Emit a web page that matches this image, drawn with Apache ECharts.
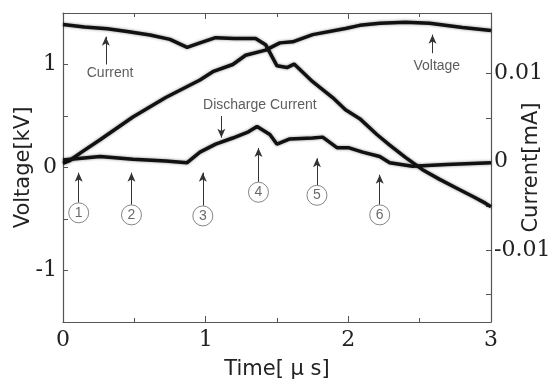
<!DOCTYPE html>
<html>
<head>
<meta charset="utf-8">
<script src="https://cdn.jsdelivr.net/npm/echarts@6/dist/echarts.min.js"></script>
<style>
  html,body{margin:0;padding:0;background:#fff}
  #chart{width:558px;height:385px}
</style>
</head>
<body>
<div id="chart"></div>
<script>
// time axis (us) and readings
var voltageTime = [0, 0.05, 0.12, 0.26, 0.49, 0.72, 0.96, 1.05, 1.19, 1.28, 1.42, 1.52, 1.61, 1.75, 1.98, 2.08, 2.22, 2.4, 2.57, 2.8, 3.0]
var voltage = [0.04, 0.07, 0.14, 0.27, 0.49, 0.68, 0.85, 0.93, 1.0, 1.09, 1.14, 1.21, 1.22, 1.29, 1.35, 1.38, 1.40, 1.41, 1.40, 1.36, 1.33]

var currentTime = [0, 0.15, 0.31, 0.45, 0.61, 0.75, 0.87, 0.96, 1.07, 1.2, 1.35, 1.42, 1.5, 1.57, 1.62, 1.75, 1.89, 1.98, 2.08, 2.2, 2.29, 2.4, 2.52, 2.64, 2.76, 2.88, 2.96, 3.0]
var current = [0.0156, 0.0153, 0.0151, 0.0148, 0.0144, 0.0139, 0.0130, 0.0135, 0.0141, 0.0140, 0.0140, 0.0133, 0.0109, 0.0107, 0.0111, 0.0091, 0.0073, 0.0059, 0.0049, 0.0031, 0.0019, 0.0005, -0.0009, -0.0020, -0.0030, -0.0040, -0.0047, -0.0051]

var dischargeTime = [0, 0.26, 0.49, 0.72, 0.87, 0.96, 1.07, 1.19, 1.3, 1.36, 1.45, 1.5, 1.59, 1.75, 1.82, 1.92, 2.0, 2.1, 2.22, 2.29, 2.45, 2.69, 3.0]
var discharge = [0.0002, 0.0006, 0.0003, 0.0001, -0.0001, 0.0011, 0.0020, 0.0027, 0.0034, 0.0040, 0.0031, 0.0020, 0.0026, 0.0027, 0.0028, 0.0016, 0.0016, 0.0011, 0.0006, -0.0001, -0.0005, -0.0003, -0.0001]

var xTicks = [0, 1, 2, 3]
var voltTicks = [-1, 0, 1]
var voltMinor = [-1, -0.5, 0, 0.5, 1]
var currTicks = [-0.01, 0, 0.01]
var currMinor = [-0.015, -0.01, -0.005, 0, 0.005, 0.01, 0.015]

// annotations, in time / voltage coordinates
var arrowNames = ['Current', 'Voltage', 'Discharge', '1', '2', '3', '4', '5', '6']
var arrowT = [0.30, 2.59, 1.11, 0.11, 0.48, 0.98, 1.37, 1.78, 2.22]
var arrowFrom = [1.00, 1.11, 0.50, -0.34, -0.36, -0.37, -0.14, -0.17, -0.36]
var arrowTo = [1.27, 1.29, 0.29, -0.05, -0.05, -0.05, 0.19, 0.09, -0.07]

var markerNames = ['1', '2', '3', '4', '5', '6']
var markerT = [0.11, 0.48, 0.98, 1.37, 1.78, 2.22]
var markerV = [-0.44, -0.46, -0.47, -0.24, -0.27, -0.46]

var noteNames = ['Current', 'Voltage', 'Discharge Current']
var noteT = [0.33, 2.62, 1.38]
var noteV = [0.92, 0.98, 0.61]

function zip(a, b) { return a.map(function (v, i) { return [v, b[i]] }) }

var chart = echarts.init(document.getElementById('chart'))
var serif = 'DejaVu Serif'
var sans = 'Liberation Sans'
var wide = 'DejaVu Sans'
var axisCol = '#555'

var traceStyle = { color: '#111', width: 3.5, shadowColor: 'rgba(0,0,0,0.45)', shadowBlur: 3 }
var lineOpts = { show: true, onZero: false, lineStyle: { color: axisCol, width: 1.2 } }
var nameFont = { fontFamily: wide, fontSize: 21, color: '#222' }
var tickFont = { fontFamily: serif, fontSize: 22, color: '#222' }

var option = {
  animation: false,
  grid: { left: 63, right: 67, top: 13, bottom: 63, outerBoundsMode: 'none', containLabel: false },
  xAxis: [{
    type: 'value', min: 0, max: 3, interval: 1,
    name: 'Time[ \u03bc s]', nameLocation: 'middle', nameGap: 37, nameMoveOverlap: false,
    nameTextStyle: nameFont,
    axisLine: lineOpts,
    axisTick: { inside: true, length: 6, lineStyle: { color: axisCol } },
    minorTick: { show: true, splitNumber: 2, length: 4, lineStyle: { color: axisCol } },
    axisLabel: Object.assign({ customValues: xTicks, margin: 7 }, tickFont),
    splitLine: { show: false }
  }, {
    type: 'value', min: 0, max: 3, interval: 1, position: 'top',
    axisLine: lineOpts,
    axisTick: { inside: true, length: 6, lineStyle: { color: axisCol } },
    minorTick: { show: true, splitNumber: 2, length: 4, lineStyle: { color: axisCol } },
    axisLabel: { show: false },
    splitLine: { show: false }
  }],
  yAxis: [{
    type: 'value', min: -1.5, max: 1.5, position: 'left',
    name: 'Voltage[kV]', nameLocation: 'middle', nameGap: 29, nameMoveOverlap: false,
    nameTextStyle: nameFont,
    axisLine: lineOpts,
    axisTick: { inside: true, length: 5, customValues: voltMinor, lineStyle: { color: axisCol } },
    axisLabel: Object.assign({ customValues: voltTicks, margin: 6 }, tickFont),
    splitLine: { show: false }
  }, {
    type: 'value', min: -0.0182, max: 0.0169, position: 'right',
    name: 'Current[mA]', nameLocation: 'middle', nameGap: 30, nameRotate: 90, nameMoveOverlap: false,
    nameTextStyle: nameFont,
    axisLine: lineOpts,
    axisTick: { inside: true, length: 5, customValues: currMinor, lineStyle: { color: axisCol } },
    axisLabel: Object.assign({ customValues: currTicks, margin: 3 }, tickFont),
    splitLine: { show: false }
  }],
  series: [
    {
      name: 'Voltage', type: 'line', xAxisIndex: 0, yAxisIndex: 0,
      data: zip(voltageTime, voltage), showSymbol: false, lineStyle: traceStyle
    },
    {
      name: 'Current', type: 'line', xAxisIndex: 0, yAxisIndex: 1,
      data: zip(currentTime, current), showSymbol: false, lineStyle: traceStyle
    },
    {
      name: 'Discharge Current', type: 'line', xAxisIndex: 0, yAxisIndex: 1,
      data: zip(dischargeTime, discharge), showSymbol: false, lineStyle: traceStyle
    },
    {
      // circled numbers plus the arrows
      name: 'markers', type: 'scatter', xAxisIndex: 0, yAxisIndex: 0,
      data: markerNames.map(function (n, i) { return { name: n, value: [markerT[i], markerV[i]] } }),
      symbol: 'circle', symbolSize: 20,
      itemStyle: { color: '#fff', borderColor: '#666', borderWidth: 1 },
      label: { show: true, position: 'inside', formatter: '{b}', fontFamily: sans, fontSize: 14, color: '#444' },
      markLine: {
        silent: true, symbol: ['none', 'arrow'], symbolSize: [6, 9],
        label: { show: false },
        lineStyle: { color: '#333', width: 1, type: 'solid' },
        data: arrowNames.map(function (n, i) {
          return [{ coord: [arrowT[i], arrowFrom[i]] }, { coord: [arrowT[i], arrowTo[i]] }]
        })
      },
      z: 5
    },
    {
      name: 'notes', type: 'scatter', xAxisIndex: 0, yAxisIndex: 0,
      data: noteNames.map(function (n, i) { return { name: n, value: [noteT[i], noteV[i]] } }),
      symbolSize: 0,
      label: { show: true, position: 'inside', formatter: '{b}', fontFamily: sans, fontSize: 14, color: '#333' }
    }
  ]
}
chart.setOption(option)
</script>
</body>
</html>
